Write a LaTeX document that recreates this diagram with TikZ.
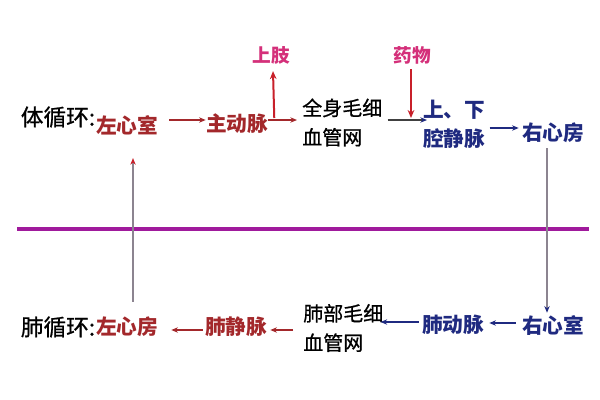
\documentclass[tikz,border=0pt]{standalone}
\usepackage{fontspec}
\newfontfamily\cjk{Noto Sans CJK SC}
\newfontfamily\cjkm[FakeBold=0.8]{Noto Sans CJK SC}
\usetikzlibrary{arrows.meta}
\definecolor{lred}{HTML}{A3282B}
\definecolor{navy}{HTML}{1F2A80}
\definecolor{pinklab}{HTML}{D4307A}
\definecolor{redarr}{HTML}{C8202A}
\definecolor{purp}{HTML}{A01A9C}
\definecolor{vgray}{HTML}{8C8490}
\tikzset{
  blk/.style={inner sep=0pt, font=\cjkm\fontsize{17pt}{20pt}\selectfont, text=black},
  blk2/.style={inner sep=0pt, align=left, font=\cjkm\fontsize{15pt}{22pt}\selectfont, text=black},
  redt/.style={inner sep=0pt, font=\cjk\bfseries\fontsize{15.5pt}{18pt}\selectfont, text=lred},
  bluet/.style={inner sep=0pt, align=left, font=\cjk\bfseries\fontsize{15.5pt}{22pt}\selectfont, text=navy},
  pinkt/.style={inner sep=0pt, font=\cjk\bfseries\fontsize{14pt}{16pt}\selectfont, text=pinklab},
  rarr/.style={draw=lred, line width=0.8pt, -{Stealth[length=5pt,width=4pt]}},
  barr/.style={draw=navy, line width=0.8pt, -{Stealth[length=5pt,width=4pt]}},
  kbarr/.style={draw=black!75, line width=0.8pt, -{Stealth[length=5pt,width=4pt,color=navy]}},
  bigred/.style={draw=redarr, line width=1.5pt, -{Stealth[length=6pt,width=5pt]}},
  vline/.style={draw=vgray, line width=0.8pt},
}
\begin{document}
\begin{tikzpicture}[x=0.75pt,y=-0.75pt]
\useasboundingbox[fill=white] (0,0) rectangle (600,400);
% top row
\node[blk] (t1) at (58,117) {体循环:};
\node[redt] (lsh) at (127,125) {左心室};
\node[redt] (zdm) at (237,124) {主动脉};
\node[blk2, anchor=west] (qs) at (302,122.5) {全身毛细\\血管网};
\node[bluet, anchor=west] (sxq) at (423,124) {上、下\\腔静脉};
\node[bluet] (yxf) at (553,133) {右心房};
\node[pinkt] (sz) at (271,55) {上肢};
\node[pinkt] (yw) at (412,55) {药物};
% bottom row
\node[blk] (t2) at (58,327) {肺循环:};
\node[redt] (lxf) at (127,327) {左心房};
\node[redt] (fjm) at (236,327) {肺静脉};
\node[blk2, anchor=west] (fb) at (303,328) {肺部毛细\\血管网};
\node[bluet] (fdm) at (453,325) {肺动脉};
\node[bluet] (yxs) at (553,325) {右心室};
% divider
\draw[purp, line width=3.2pt] (17,229) -- (589,229);
% top connectors
\draw[rarr] ([shift={(11,-5)}]lsh.east) -- ([shift={(0,-4)}]zdm.west);
\draw[rarr] ([shift={(0,-4)}]zdm.east) -- ([shift={(-5,-2.5)}]qs.west);
\draw[bigred] ([shift={(6,-6)}]zdm.east) -- ([shift={(2,7)}]sz.south);
\draw[kbarr] ([shift={(5,-2.5)}]qs.east) -- ([shift={(4,-4)}]sxq.west);
\draw[bigred] ([shift={(-1,5)}]yw.south) -- ([shift={(-12,-6)}]sxq.west);
\draw[barr] ([shift={(4,4)}]sxq.east) -- ([shift={(-3,-5)}]yxf.west);
\draw[vline, -{Stealth[length=5pt,width=4pt,color=navy]}] ([shift={(-6,5)}]yxf.south) -- ([shift={(-6,-2)}]yxs.north);
% bottom connectors
\draw[barr] ([shift={(-6,-2)}]yxs.west) -- ([shift={(5,-2)}]fdm.east);
\draw[barr] ([shift={(-3,-3)}]fdm.west) -- ([shift={(-3,-6)}]fb.east);
\draw[rarr] ([shift={(-10,2)}]fb.west) -- ([shift={(3,3)}]fjm.east);
\draw[rarr] ([shift={(-2,3)}]fjm.west) -- ([shift={(13,3)}]lxf.east);
\draw[vline, -{Stealth[length=5pt,width=4pt,color=redarr]}] ([shift={(6,-15)}]lxf.north) -- ([shift={(6,23)}]lsh.south);
\end{tikzpicture}
\end{document}
